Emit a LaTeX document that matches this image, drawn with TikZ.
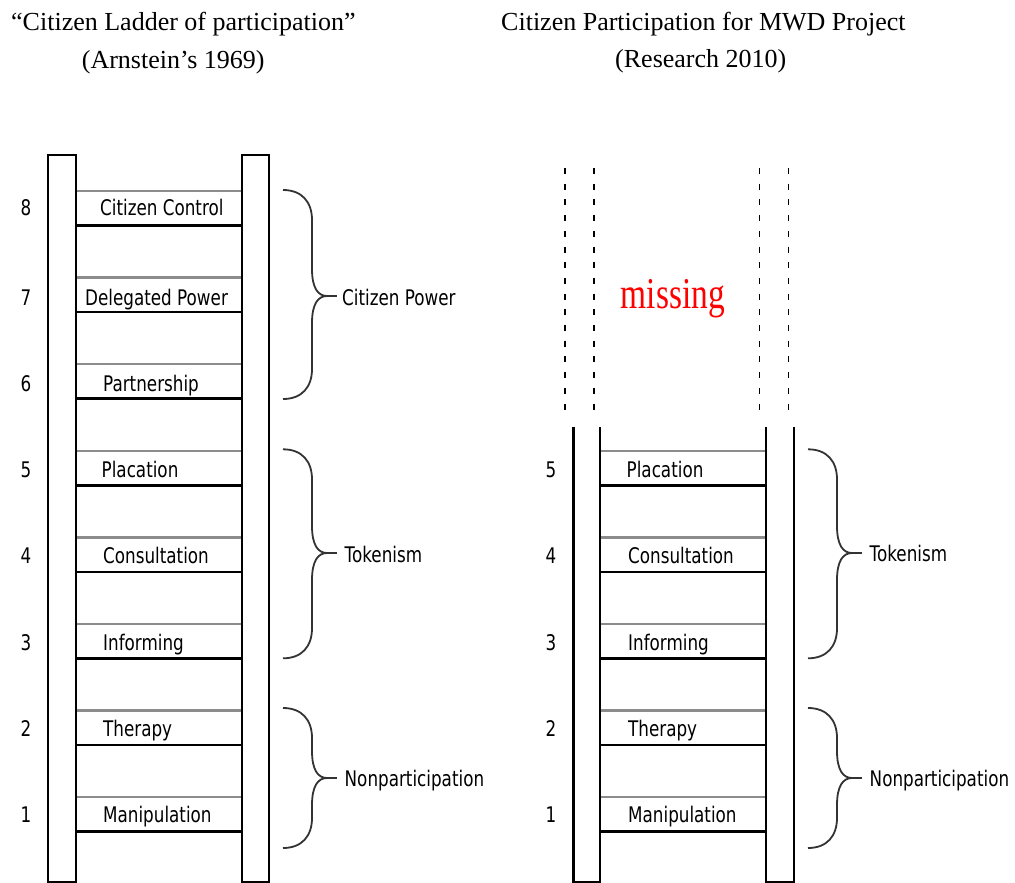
\documentclass[tikz,border=0pt]{standalone}
\usepackage{fontspec}
\setmainfont{Liberation Serif}
\newfontfamily\labfont[FakeStretch=0.78]{DejaVu Sans}
\newfontfamily\missfont[FakeStretch=0.76]{Liberation Serif}

% curly brace: #1 left x, #2 top y, #3 bottom y, #4 tip y, #5 tip name
\newcommand\curlybrace[5]{%
  \draw[brace] (#1,#2) .. controls (#1+19,#2) and (#1+29,#2+12) .. (#1+29,#2+30)
    -- (#1+29,#4-27) .. controls (#1+29,#4-8) and (#1+35,#4) .. (#1+44,#4)
    .. controls (#1+35,#4) and (#1+29,#4+8) .. (#1+29,#4+27)
    -- (#1+29,#3-30) .. controls (#1+29,#3-12) and (#1+19,#3) .. (#1,#3);
  \coordinate (#5) at (#1+54,#4);
  \draw[brace] (#1+44,#4) -- (#5);
}

\begin{document}
\begin{tikzpicture}[x=1pt,y=-1pt,
  rail/.style={draw=black,line width=2.5pt},
  rungtop/.style={draw=black!45,line width=2.3pt},
  rungbot/.style={draw=black,line width=2.5pt},
  lbl/.style={inner sep=0pt,anchor=base west,font=\labfont\fontsize{21.5}{25}\selectfont},
  num/.style={inner sep=0pt,anchor=base,font=\labfont\fontsize{21.5}{25}\selectfont},
  ttl/.style={inner sep=0pt,anchor=base west,font=\fontsize{26}{30}\selectfont},
  miss/.style={inner sep=0pt,anchor=base west,text=red,font=\missfont\fontsize{44}{48}\selectfont},
  brace/.style={draw=black!80,line width=1.8pt},
  ghost/.style={draw=black,line width=1.3pt,dash pattern=on 6pt off 9.7pt}]

\useasboundingbox (0,0) rectangle (1015,883);
\fill[white] (0,0) rectangle (1015,883);

% titles
\node[ttl] (t1a) at (11,30.5) {“Citizen Ladder of participation”};
\node[ttl] (t1b) at (81.7,68.3) {(Arnstein’s 1969)};
\node[ttl] (t2a) at (501,30.5) {Citizen Participation for MWD Project};
\node[ttl] (t2b) at (615,68) {(Research 2010)};

% left ladder: rungs 1-8
\foreach \k/\txt/\lx/\dy in {8/Citizen Control/100/10, 7/Delegated Power/85/7,
    6/Partnership/103/7, 5/Placation/101.5/7.5, 4/Consultation/103/8,
    3/Informing/103/8.5, 2/Therapy/103/9, 1/Manipulation/103/9}{
  \pgfmathsetmacro\yt{191+(8-\k)*86.6}
  \pgfmathsetmacro\yb{\yt+34.5}
  \draw[rungtop] (76,\yt) -- (242,\yt);
  \draw[rungbot] (76,\yb) -- (242,\yb);
  \node[lbl] (L\k) at (\lx,\yb-\dy) {\txt};
  \node[num] (LN\k) at (26,\yb-\dy) {\k};
}
\draw[rail] (48,155) rectangle (76,882);
\draw[rail] (242,155) rectangle (269,882);

% right ladder: rungs 1-5 only
\foreach \k/\txt/\lx/\dy in {5/Placation/626.5/7.5, 4/Consultation/628/8,
    3/Informing/628/8.5, 2/Therapy/628/9, 1/Manipulation/628/9}{
  \pgfmathsetmacro\yt{191+(8-\k)*86.6}
  \pgfmathsetmacro\yb{\yt+34.5}
  \draw[rungtop] (600,\yt) -- (766,\yt);
  \draw[rungbot] (600,\yb) -- (766,\yb);
  \node[lbl] (R\k) at (\lx,\yb-\dy) {\txt};
  \node[num] (RN\k) at (551,\yb-\dy) {\k};
}
\draw[rail] (573.3,426.7) -- (573.3,882) -- (600,882) -- (600,426.7);
\draw[rail] (766,426.7) -- (766,882) -- (794,882) -- (794,426.7);

% upper rungs that are absent
\foreach \gx in {565,594,759.3,788.3}
  \draw[ghost] (\gx,168) -- (\gx,412);
\node[miss] (missing) at (620.7,308) {missing};

% braces and group names, left ladder
\curlybrace{283}{190}{399}{296}{bL1}
\curlybrace{283}{449.3}{658.3}{553}{bL2}
\curlybrace{283}{708}{848}{778}{bL3}
\node[lbl] (gL1) at ([xshift=5pt,yshift=-9pt]bL1) {Citizen Power};
\node[lbl] (gL2) at ([xshift=7.5pt,yshift=-9.5pt]bL2) {Tokenism};
\node[lbl] (gL3) at ([xshift=7.5pt,yshift=-8pt]bL3) {Nonparticipation};

% braces and group names, right ladder
\curlybrace{808}{449.3}{658.3}{553}{bR2}
\curlybrace{808}{708}{848}{778}{bR3}
\node[lbl] (gR2) at ([xshift=7.5pt,yshift=-8.5pt]bR2) {Tokenism};
\node[lbl] (gR3) at ([xshift=7.5pt,yshift=-8pt]bR3) {Nonparticipation};
\end{tikzpicture}
\end{document}
